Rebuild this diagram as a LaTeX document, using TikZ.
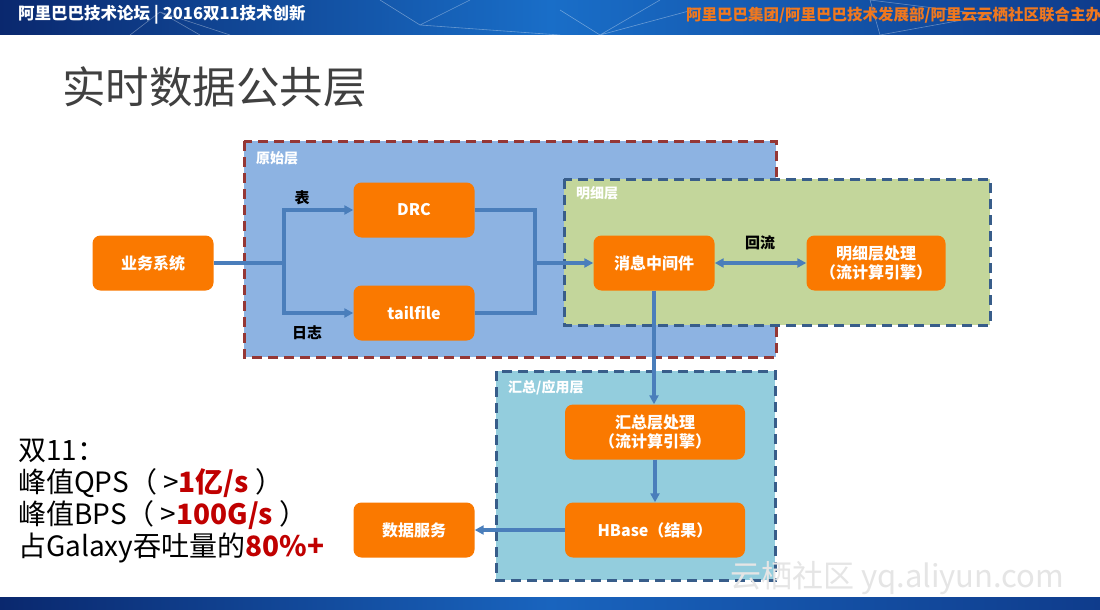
\documentclass[tikz,border=0pt]{standalone}
\usepackage{fontspec}
\setmainfont{Noto Sans CJK SC}
\usetikzlibrary{arrows.meta}
\definecolor{orng}{RGB}{250,121,0}
\definecolor{lineblue}{RGB}{74,126,187}
\definecolor{rawfill}{RGB}{141,179,226}
\definecolor{detfill}{RGB}{195,214,155}
\definecolor{sumfill}{RGB}{147,205,221}
\definecolor{redbd}{RGB}{149,55,53}
\definecolor{bluebd}{RGB}{56,93,138}
\definecolor{darkred}{RGB}{192,0,0}
\definecolor{titlegray}{RGB}{64,64,64}
\definecolor{bannerorange}{RGB}{240,120,30}
\tikzset{
  obox/.style={draw=none,fill=orng,rounded corners=8pt,minimum width=121pt,minimum height=55pt,
    text=white,font=\fontsize{16}{19}\selectfont\bfseries,align=center,inner sep=2pt},
  layer/.style={line width=3pt,dash pattern=on 10pt off 6pt},
  conn/.style={draw=lineblue,line width=3.2pt},
  arr/.style={conn,-{Triangle[length=9pt,width=9pt]}},
  lname/.style={text=white,font=\fontsize{14}{16}\selectfont\bfseries,anchor=west,inner sep=0pt},
  elabel/.style={text=black,font=\fontsize{15}{17}\selectfont\bfseries,inner sep=0pt},
  stat/.style={anchor=base west,inner sep=0pt,font=\fontsize{28}{30}\selectfont,text=black}
}
\begin{document}
\begin{tikzpicture}[x=1pt,y=-1pt]
\useasboundingbox (0,0) rectangle (1100,610);
\fill[white] (0,0) rectangle (1100,610);
% top banner
\shade[left color={rgb,255:red,10;green,40;blue,110},right color={rgb,255:red,15;green,60;blue,140},middle color={rgb,255:red,25;green,110;blue,200}] (0,0) rectangle (1100,35);
\begin{scope}[white,opacity=0.35,line width=0.6pt]
  \draw (130,35) -- (160,12) -- (230,35) (160,12) -- (200,35);
  \draw (380,0) -- (420,25) -- (470,0) (420,25) -- (560,35);
  \draw (560,10) -- (600,35) -- (660,0) (600,35) -- (700,8);
  \draw (870,0) -- (880,35) -- (990,15) -- (870,0);
\end{scope}
\node[anchor=west,text=white,font=\fontsize{16.5}{18}\selectfont\bfseries,inner sep=0pt] (bt1) at (18,15) {阿里巴巴技术论坛 | 2016双11技术创新};
\node[anchor=west,text=bannerorange,font=\fontsize{15.5}{18}\selectfont\bfseries,inner sep=0pt] (bt2) at (686,15) {阿里巴巴集团/阿里巴巴技术发展部/阿里云云栖社区联合主办};
% bottom banner
\shade[left color={rgb,255:red,10;green,40;blue,110},right color={rgb,255:red,15;green,60;blue,140},middle color={rgb,255:red,25;green,100;blue,190}] (0,597) rectangle (1100,610);
% title
\node[anchor=west,text=titlegray,font=\fontsize{43.5}{46}\selectfont,inner sep=0pt] (title) at (62,87) {实时数据公共层};
% layers
\fill[rawfill] (244,141) rectangle (776,357);
\draw[layer,draw=redbd] (244,141) rectangle (776,357);
\fill[sumfill] (496,371) rectangle (775,580);
\draw[layer,draw=bluebd] (496,371) rectangle (775,580);
\fill[detfill] (564,179) rectangle (990,325);
\draw[layer,draw=bluebd] (564,179) rectangle (990,325);
\node[lname] (l1) at (256,158) {原始层};
\node[lname] (l2) at (576,193) {明细层};
\node[lname] (l3) at (508,388) {汇总/应用层};
% nodes
\node[obox] (biz) at (153,263) {业务系统};
\node[obox] (drc) at (414,210) {DRC};
\node[obox] (tail) at (414,313) {tailfile};
\node[obox] (mq) at (654,263) {消息中间件};
\node[obox,minimum width=139pt] (detp) at (876,263) {明细层处理\\（流计算引擎）};
\node[obox,minimum width=180pt] (sump) at (655,432) {汇总层处理\\（流计算引擎）};
\node[obox,minimum width=180pt] (hb) at (655,530) {HBase（结果）};
\node[obox] (ds) at (414,530) {数据服务};
% connectors
\coordinate (j1) at (284,263);
\coordinate (j2) at (535,263);
\draw[conn] (biz.east) -- (j1);
\draw[arr] (j1) |- (drc.west);
\draw[arr] (j1) |- (tail.west);
\draw[conn] (drc.east) -| (j2);
\draw[conn] (tail.east) -| (j2);
\draw[arr] (j2) -- (mq.west);
\draw[conn,{Triangle[length=9pt,width=9pt]}-{Triangle[length=9pt,width=9pt]}] (mq.east) -- (detp.west);
\draw[arr] (mq.south) -- (mq.south |- sump.north);
\draw[arr] (sump.south) -- (hb.north);
\draw[arr] (hb.west) -- (ds.east);
% edge labels
\node[elabel] (e1) at (302,198) {表};
\node[elabel] (e2) at (307,333) {日志};
\node[elabel] (e3) at (760,243) {回流};
% stats
\node[stat] (s1) at (18,460) {双11：};
\node[stat] (s2) at (18,492) {峰值QPS（ >\textcolor{darkred}{\bfseries 1亿/s} ）};
\node[stat] (s3) at (18,524) {峰值BPS（ >\textcolor{darkred}{\bfseries 100G/s} ）};
\node[stat] (s4) at (18,556) {占Galaxy吞吐量的\textcolor{darkred}{\bfseries 80\%+}};
% watermark
\node[anchor=west,text=black!10,font=\fontsize{31}{33}\selectfont,inner sep=0pt] (wm) at (730,578) {云栖社区 yq.aliyun.com};
\end{tikzpicture}
\end{document}
